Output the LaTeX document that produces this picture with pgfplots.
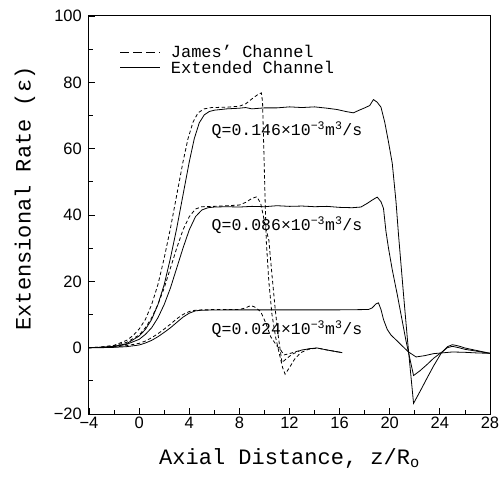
\documentclass[border=0pt]{standalone}
\usepackage{fontspec}
\setmainfont{Liberation Mono}
\newfontfamily\ticksf{Liberation Sans}
\usepackage{pgfplots}
\usepackage{pgfplotstable}
\pgfplotsset{compat=1.18}
\newcommand\legfont{\fontsize{17bp}{19bp}\selectfont}
\newcommand\qfont{\fontsize{16.5bp}{19bp}\selectfont}
\newcommand\labfont{\fontsize{22bp}{24bp}\selectfont}

\pgfplotstableread{
x y
-4 0
-3 0.2
-2 0.7
-1 2.2
-0.5 3.6
0 5.6
0.5 8.5
1 13
1.5 19
2 27
2.5 36
3 46
3.5 56
3.9 63
4.3 68
4.7 70.8
5.2 72
5.8 72.4
7 72.5
8 72.8
8.5 73.5
9 75
9.5 76.4
9.76 76.8
9.85 74
9.95 60
10.05 45
10.15 32
10.35 20
10.6 10
10.9 3
11.2 -2
11.45 -6
11.65 -8
12.0 -6
12.4 -3.5
12.9 -1.5
13.5 -0.5
14.2 -0.1
15 -0.7
16.2 -1.5
}\Dhi

\pgfplotstableread{
x y
-4 0
-3 0.1
-2 0.4
-1 1.2
0 3.5
0.5 5.5
1 8.5
1.5 13
2 19
2.5 27
3 36
3.5 46
4 56
4.4 63
4.8 67.8
5.2 70.2
5.6 71.2
6 71.6
7 72
8 72.2
8.5 72.4
9 72
10 72.3
11 72.3
12 72.6
13 72.4
14 72.6
15 72.2
15.8 71.8
16.5 71.2
17.1 70.8
17.5 71.5
18 72.3
18.4 73
18.7 74.8
19 74
19.3 72.5
19.6 68
19.9 62
20.2 55.6
20.5 44
20.7 34
21.1 16
21.4 3
21.6 -5
21.9 -16.8
22.5 -12.6
23 -9
23.5 -5.5
24.1 -1.7
24.6 0.3
25 0.9
25.5 0.5
26 -0.1
27 -0.9
28 -1.7
}\Shi

\pgfplotstableread{
x y
-4 0
-3 0.2
-2 0.6
-1 1.6
0 3.8
0.5 6
1 9
1.5 13
2 18
2.5 24
3 30
3.5 35.5
4 39.5
4.5 41.8
5 42.5
6 42.6
7 42.8
8 43
8.5 43.8
9 45
9.4 45.5
9.7 43.5
9.9 40
10.1 36
10.35 32.5
10.6 22
10.85 12
11.05 5
11.25 -0.5
11.4 -4.5
11.7 -3.5
12.2 -2
12.9 -0.8
13.6 -0.3
14.2 -0.1
15 -0.7
16.2 -1.5
}\Dmid

\pgfplotstableread{
x y
-4 0
-3 0.1
-2 0.3
-1 1
0 2.5
0.5 4
1 6
1.5 9
2 13
2.5 18
3 24
3.5 30
4 35.5
4.5 39.5
5 41.5
5.5 42.2
6 42.4
7 42.5
8 42.4
9 42.6
10 42.5
11 42.8
12 42.6
13 42.7
14 42.5
15 42.6
16 42.3
17 42.2
17.7 42.4
18.2 43.5
18.6 44.5
19 45.4
19.3 44
19.5 42
19.7 35
19.9 30
20.2 23.5
20.6 16
21 8
21.3 2
21.5 -1.5
21.9 -8.4
22.4 -7
23 -5
23.5 -3.2
24.1 -1.5
24.6 0
25 0.4
25.5 0
26 -0.5
27 -1.1
28 -1.7
}\Smid

\pgfplotstableread{
x y
-4 0
-3 0.1
-2 0.2
-1 0.6
0 1.3
0.5 2
1 3
1.5 4.2
2 5.6
2.5 7.1
3 8.7
3.5 10
4 10.9
4.5 11.3
5 11.4
6 11.5
8 11.5
8.5 12
8.9 12.7
9.2 12.3
9.7 10.9
10.1 7.5
10.5 3.3
11.0 0.5
11.3 -0.7
11.55 -2.2
12 -1.8
12.5 -1.2
13 -0.7
13.6 -0.3
14.2 -0.1
15 -0.7
16.2 -1.5
}\Dlo

\pgfplotstableread{
x y
-4 0
-3 0
-2 0.1
-1 0.3
0 0.8
0.5 1.4
1 2.2
1.5 3.3
2 4.6
2.5 6
3 7.6
3.5 9.2
4 10.4
4.5 11.1
5 11.3
7 11.4
10 11.4
13 11.4
16 11.4
18.3 11.5
18.6 12
18.9 13.2
19.1 13.5
19.3 11.5
19.5 8.5
19.8 5.5
20.1 3.8
20.6 2
21 0.5
21.5 -1.3
22.1 -2.8
22.8 -2.4
23.5 -1.8
24.1 -1.6
25 -1.3
26 -1.4
27 -1.6
28 -1.7
}\Slo

\begin{document}
\begin{tikzpicture}
\begin{axis}[
  scale only axis, width=401bp, height=398bp,
  xmin=-4, xmax=28, ymin=-20, ymax=100,
  xtick={-4,0,...,28}, xticklabels={−4,0,4,8,12,16,20,24,28},
  ytick={-20,0,...,100}, yticklabels={−20,0,20,40,60,80,100},
  minor x tick num=1, minor y tick num=1,
  xtick pos=bottom, ytick pos=left, tick align=inside,
  major tick length=6bp, minor tick length=4bp,
  tick style={line width=0.8bp, black},
  axis line style={line width=1bp},
  ticklabel style={font=\ticksf\fontsize{16.5bp}{18bp}\selectfont},
  xticklabel style={inner sep=0pt, yshift=-3bp},
  yticklabel style={inner sep=0pt, xshift=-7bp},
  xlabel={Axial Distance, z/R\textsubscript{o}},
  ylabel={Extensional Rate (ε)},
  label style={font=\labfont},
  xlabel style={at={(axis description cs:0.5,-0.1106)}, anchor=center},
  ylabel style={at={(axis description cs:-0.1596,0.5415)}, anchor=center},
  legend style={draw=none, fill=none, at={(axis description cs:0.077,0.9325)}, anchor=north west, font=\legfont, inner sep=0pt, row sep=-2bp, legend cell align=left, /tikz/every odd column/.append style={column sep=8bp}},
  legend image code/.code={\draw[#1] (0bp,0bp) -- (40bp,0bp);},
  every axis plot/.append style={line width=0.8bp, black},
]
\addlegendimage{line width=0.8bp, dash pattern=on 9bp off 4bp}
\addlegendentry{James' Channel}
\addlegendimage{line width=0.8bp}
\addlegendentry{Extended Channel}
\addplot[forget plot, dash pattern=on 3.5bp off 2.5bp] table {\Dhi};
\addplot[forget plot, dash pattern=on 3.5bp off 2.5bp] table {\Dmid};
\addplot[forget plot, dash pattern=on 3.5bp off 2.5bp] table {\Dlo};
\addplot[forget plot] table {\Shi};
\addplot[forget plot] table {\Smid};
\addplot[forget plot] table {\Slo};
\node[font=\qfont, inner sep=1bp] at (axis cs:11.8,65.6) {Q=0.146×10\textsuperscript{−3}m\textsuperscript{3}/s};
\node[font=\qfont, inner sep=1bp] at (axis cs:11.8,37) {Q=0.086×10\textsuperscript{−3}m\textsuperscript{3}/s};
\node[font=\qfont, inner sep=1bp] at (axis cs:11.8,5.5) {Q=0.024×10\textsuperscript{−3}m\textsuperscript{3}/s};
\end{axis}
\pgfresetboundingbox
\path[use as bounding box] (current axis.south west) ++(-89bp,-63bp) rectangle ++(499bp,477bp);
\end{tikzpicture}
\end{document}
